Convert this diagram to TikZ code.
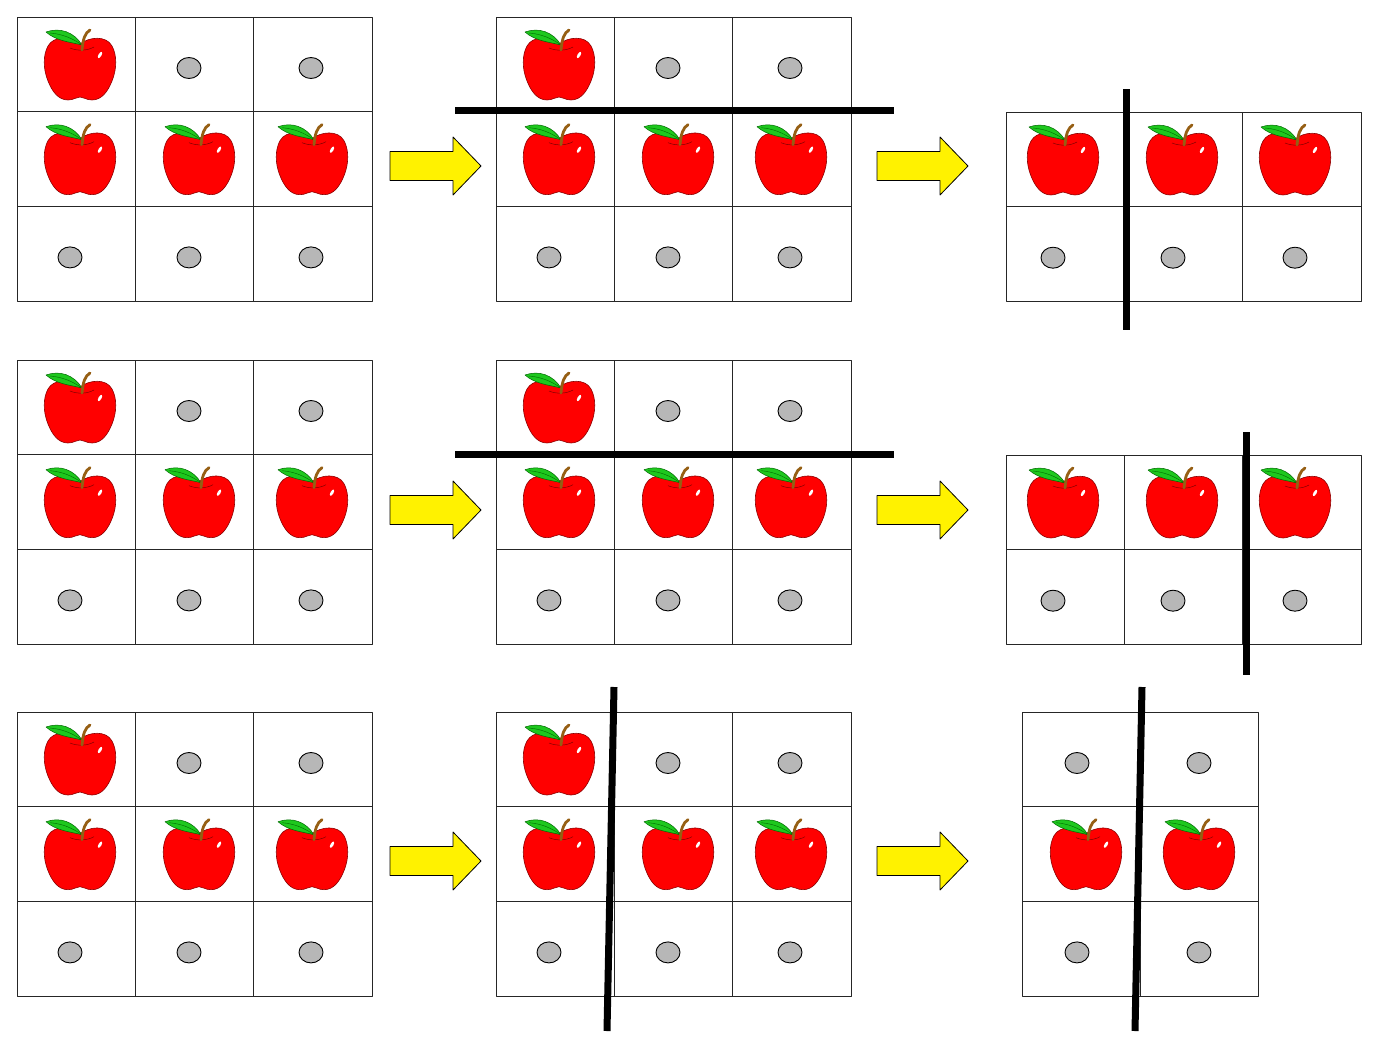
\documentclass[tikz,border=0pt]{standalone}
\usepackage{tikz}
\definecolor{applered}{RGB}{255,0,0}
\definecolor{leafgreen}{RGB}{30,200,30}
\definecolor{stembrown}{RGB}{150,95,20}
\definecolor{seedgray}{RGB}{183,183,183}
\begin{document}
\begin{tikzpicture}[line join=round,x=1pt,y=-1pt,
  gridline/.style={line width=0.9pt,draw=black!85},
  cutbar/.style={line width=7pt,black},
  bigarrow/.style={draw=black,fill=yellow,line width=0.8pt},
  pics/seed/.style={code={
    \draw[fill=seedgray,line width=0.9pt] (0,0) ellipse [x radius=12pt,y radius=10.5pt];
  }},
  pics/apple/.style={code={
    \draw[fill=applered,draw=red!55!black,line width=0.6pt]
      (0,-25) .. controls (-9,-32) and (-26,-34) .. (-32,-23)
      .. controls (-37,-14) and (-37,0) .. (-32,12)
      .. controls (-28,22) and (-22,31) .. (-12,31)
      .. controls (-6,31) and (-4,28) .. (0,28)
      .. controls (4,28) and (6,31) .. (12,31)
      .. controls (22,31) and (28,22) .. (32,12)
      .. controls (37,0) and (37,-14) .. (32,-23)
      .. controls (26,-34) and (9,-32) .. (0,-25) -- cycle;
    \draw[red!50!black,line width=0.5pt] (-10,-21) .. controls (-3,-18) and (7,-18) .. (14,-22);
    \fill[white,rotate around={-30:(20,-14)}] (20,-14) ellipse [x radius=1.5pt,y radius=3.5pt];
    \draw[fill=leafgreen,draw=green!40!black,line width=0.5pt] (-34,-37) .. controls (-20,-42) and (-6,-37) .. (2,-24) .. controls (-10,-27) and (-24,-28) .. (-34,-37) -- cycle;
    \draw[green!40!black,line width=0.4pt] (-30,-36) .. controls (-18,-35) and (-8,-31) .. (2,-24);
    \draw[stembrown,line width=2.8pt,line cap=round] (2,-19) .. controls (3,-30) and (5,-36) .. (10,-39);
  }}]
\path[fill=white,use as bounding box] (0,0) rectangle (1386,1049);

%ruudukot
\foreach \gx/\gy/\nc/\nr in {17/17/3/3,496/17/3/3,1006/112/3/2,17/360/3/3,496/360/3/3,1006/455/3/2,17/712/3/3,496/712/3/3,1022/712/2/3}
{
\foreach \c in {1,...,\nc}
  \foreach \r in {1,...,\nr}
    \draw[gridline] (\gx+\c*118.4-118.4,\gy+\r*94.7-94.7) rectangle ++(118.4,94.7);
}

%omenat ja siemenet
\foreach \gx in {17,496}
\foreach \gy in {17,360,712}
{
\foreach \ox/\r in {63/0,63/1,182/1,295/1}
  \pic at (\gx+\ox,\gy+52+\r*94.7) {apple};
\foreach \ox/\r in {172/0,294/0,53/2,172/2,294/2}
  \pic at (\gx+\ox,\gy+51+\r*94.7) {seed};
}
\foreach \gy in {112,455}
{
\foreach \ox in {57,176,289}
  \pic at (1006+\ox,\gy+52) {apple};
\foreach \ox in {47,167,289}
  \pic at (1006+\ox,\gy+51+94.7) {seed};
}
\foreach \ox/\sx in {64/55,177/177}
{
\pic at (1022+\ox,712+52+94.7) {apple};
\pic at (1022+\sx,712+51) {seed};
\pic at (1022+\sx,712+51+189.4) {seed};
}

%nuolet
\foreach \ax in {390,877}
\foreach \ay in {166,510,861}
\draw[bigarrow] (\ax,\ay-14.5) -- ++(63,0) -- ++(0,-14.5) -- ++(28,29) -- ++(-28,29) -- ++(0,-14.5) -- ++(-63,0) -- cycle;

%leikkausviivat
\draw[cutbar] (455,110.5) -- (894,110.5);
\draw[cutbar] (455,454) -- (894,454);
\draw[cutbar] (1126,89) -- (1126,330);
\draw[cutbar] (1246,432) -- (1246,675);
\draw[cutbar] (614,687) -- (607,1031);
\draw[cutbar] (1142,687) -- (1135,1031);
\end{tikzpicture}
\end{document}
